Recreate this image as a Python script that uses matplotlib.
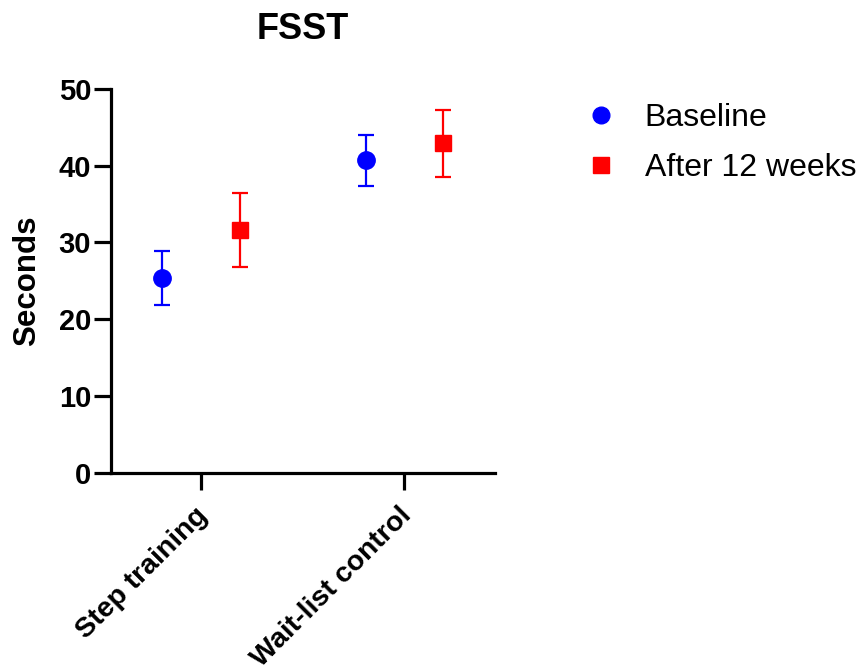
import matplotlib
matplotlib.use("Agg")
import matplotlib.pyplot as plt
from matplotlib.lines import Line2D
import numpy as np

plt.rcParams['font.family'] = ['Liberation Sans', 'DejaVu Sans']

groups = ["Step training", "Wait-list control"]
series = ["Baseline", "After 12 weeks"]
baseline_mean = [25.3, 40.7]
baseline_lo = [21.8, 37.4]
baseline_hi = [28.9, 44.0]
after_mean = [31.6, 42.9]
after_lo = [26.8, 38.5]
after_hi = [36.4, 47.3]
colors = ["#0000ff", "#ff0000"]
markers = ["o", "s"]
yticks = [0, 10, 20, 30, 40, 50]

fig = plt.figure(figsize=(8.61, 6.71), dpi=100)
ax = fig.add_axes([110.5 / 861, 1 - 472.5 / 671, (495 - 110.5) / 861, (472.5 - 89) / 671])

x = np.arange(len(groups))
offset = 0.19
data = [(baseline_mean, baseline_lo, baseline_hi), (after_mean, after_lo, after_hi)]
msizes = [12.5, 11.5]
for i, (m, lo, hi) in enumerate(data):
    m = np.array(m); lo = np.array(lo); hi = np.array(hi)
    xs = x + (-offset if i == 0 else offset)
    ax.errorbar(xs, m, yerr=[m - lo, hi - m], fmt=markers[i], color=colors[i],
                ecolor=colors[i], elinewidth=1.6, capsize=6, capthick=1.6,
                markersize=msizes[i], clip_on=False, zorder=3)

ax.set_xlim(-0.445, 1.445)
ax.set_ylim(0, 50)
ax.set_yticks(yticks)
ax.set_yticklabels([str(t) for t in yticks], fontsize=21, fontweight='bold')
ax.set_xticks(x)
ax.set_xticklabels([])

# rotated group names, anchored just below each tick
for xi, name in zip(x, groups):
    ax.annotate(name, xy=(xi, 0), xycoords=('data', 'axes fraction'),
                xytext=(-4.5, -21.5), textcoords='offset points',
                fontsize=20.5, fontweight='bold', rotation=45,
                ha='right', va='top', rotation_mode='anchor',
                annotation_clip=False)

for side in ['top', 'right']:
    ax.spines[side].set_visible(False)
for side in ['left', 'bottom']:
    ax.spines[side].set_linewidth(2.3)
ax.tick_params(axis='both', width=2.3, length=12, pad=2)

ax.set_ylabel("Seconds", fontsize=22.5, fontweight='bold', labelpad=12)
ax.set_title("FSST", fontsize=26, fontweight='bold', pad=36)

handles = [Line2D([], [], linestyle='none', marker=markers[i], color=colors[i],
                  markersize=msizes[i] - 0.5) for i in range(len(series))]
fig.legend(handles, series, loc='upper left', bbox_to_anchor=(585.5 / 861, 1 - 103 / 671),
           frameon=False, fontsize=23, handlelength=1.0, handletextpad=0.85,
           labelspacing=0.62, borderpad=0, borderaxespad=0)

fig.savefig("out.png", dpi=100)
